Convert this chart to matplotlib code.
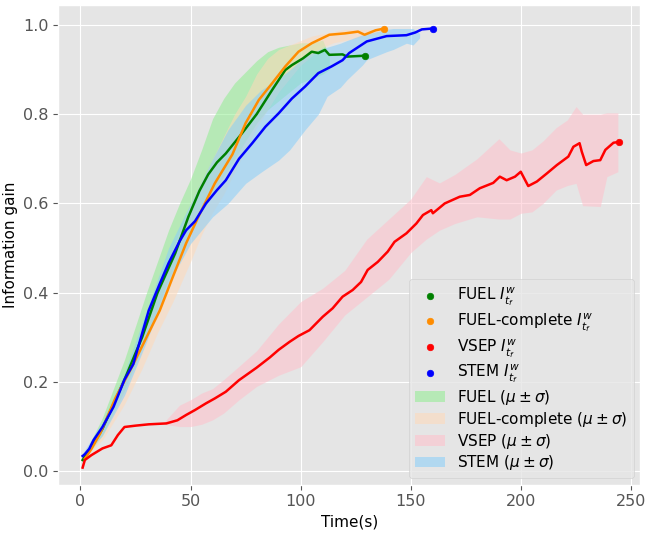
import matplotlib
matplotlib.use("Agg")
import matplotlib.pyplot as plt

plt.style.use("ggplot")

# FUEL
fuel_t = [1, 3, 6, 10, 15, 20, 28, 35, 43, 49, 54, 58, 62, 66, 73, 80, 87, 93, 96,
          101, 105, 108, 111, 113, 119, 121, 129]
fuel_y = [0.025, 0.04, 0.062, 0.095, 0.15, 0.205, 0.30, 0.40, 0.488, 0.57, 0.628,
          0.665, 0.692, 0.712, 0.755, 0.80, 0.854, 0.899, 0.91, 0.925, 0.94, 0.937,
          0.944, 0.933, 0.934, 0.929, 0.931]
fuel_band_t = [1, 10, 20, 30, 40, 45, 50, 55, 60, 65, 70, 75, 80, 85, 90, 95,
               100, 105, 110, 113]
fuel_band_lo = [0.02, 0.08, 0.18, 0.30, 0.43, 0.48, 0.53, 0.58, 0.62, 0.66, 0.70,
                0.74, 0.78, 0.81, 0.83, 0.85, 0.87, 0.88, 0.89, 0.90]
fuel_band_hi = [0.03, 0.12, 0.25, 0.40, 0.54, 0.60, 0.655, 0.72, 0.79, 0.835,
                0.87, 0.895, 0.92, 0.94, 0.95, 0.955, 0.96, 0.96, 0.966, 0.93]

# FUEL-complete
fc_t = [2, 5, 9, 16, 23, 30, 36, 42, 48, 54, 61, 69, 75, 81, 87, 93, 99, 105,
        113, 120, 126, 129, 134, 138]
fc_y = [0.028, 0.05, 0.085, 0.165, 0.23, 0.30, 0.36, 0.436, 0.511, 0.575, 0.645,
        0.71, 0.78, 0.832, 0.869, 0.907, 0.94, 0.959, 0.978, 0.981, 0.985, 0.978,
        0.988, 0.992]
fc_band_t = [1, 10, 20, 28, 35, 42, 50, 55, 60, 65, 70, 75, 80, 85, 90, 95, 100,
             105, 110, 115, 120, 125, 130, 135, 138]
fc_band_lo = [0.025, 0.07, 0.15, 0.23, 0.31, 0.38, 0.47, 0.53, 0.58, 0.62, 0.67,
              0.72, 0.77, 0.81, 0.85, 0.88, 0.91, 0.93, 0.95, 0.96, 0.965, 0.97,
              0.975, 0.98, 0.99]
fc_band_hi = [0.03, 0.10, 0.21, 0.30, 0.40, 0.50, 0.60, 0.65, 0.70, 0.75, 0.80,
              0.84, 0.89, 0.925, 0.945, 0.955, 0.965, 0.975, 0.98, 0.985, 0.99,
              0.99, 0.99, 0.99, 0.992]

# VSEP
vsep_t = [1, 2, 5, 10, 14, 17, 20, 25, 31, 39, 44, 48, 52, 57, 61, 66, 72, 80, 86,
          90, 95, 99, 104, 110, 114.5, 119, 123.6, 127.4, 130.4, 135, 139.5,
          142.6, 148, 152.5, 155.5, 159.3, 160, 165.4, 172.2, 176.8, 181.3,
          187.4, 190.4, 193.5, 197.3, 199.9, 203.3, 207.2, 211.7, 216.3, 221.5,
          223.8, 226.6, 227.6, 229.6, 232.9, 236, 238.3, 242, 244.6]
vsep_y = [0.008, 0.025, 0.036, 0.051, 0.058, 0.081, 0.099, 0.102, 0.105, 0.107,
          0.114, 0.126, 0.137, 0.152, 0.163, 0.178, 0.204, 0.232, 0.255, 0.272,
          0.29, 0.303, 0.316, 0.346, 0.365, 0.391, 0.406, 0.424, 0.451, 0.469,
          0.492, 0.514, 0.533, 0.555, 0.574, 0.585, 0.578, 0.600, 0.615, 0.619,
          0.634, 0.646, 0.660, 0.652, 0.660, 0.671, 0.639, 0.649, 0.667, 0.686,
          0.705, 0.727, 0.735, 0.716, 0.686, 0.695, 0.697, 0.720, 0.736, 0.738]
vsep_band_t = [38, 45, 50, 55, 60, 65, 72, 80, 90, 100, 110, 120, 130, 140, 150,
               157, 163, 170, 180, 190, 195, 200, 205, 210, 216, 221, 225, 228,
               236, 239, 244]
vsep_band_lo = [0.105, 0.10, 0.10, 0.105, 0.115, 0.13, 0.16, 0.19, 0.215, 0.234,
                0.29, 0.35, 0.39, 0.43, 0.49, 0.52, 0.54, 0.555, 0.57, 0.565,
                0.565, 0.578, 0.581, 0.60, 0.63, 0.64, 0.645, 0.595, 0.593, 0.66,
                0.671]
vsep_band_hi = [0.11, 0.148, 0.16, 0.175, 0.185, 0.205, 0.235, 0.27, 0.33, 0.38,
                0.41, 0.45, 0.52, 0.565, 0.61, 0.66, 0.646, 0.665, 0.70, 0.745,
                0.72, 0.713, 0.72, 0.74, 0.77, 0.787, 0.817, 0.80, 0.80, 0.803,
                0.803]

# STEM
stem_t = [1, 2, 4, 6, 10, 15, 20, 24, 31, 36, 40, 45, 48, 52, 57, 62, 66, 72, 78,
          84, 90, 96, 102, 108, 114, 119, 122, 130, 139, 148, 152, 155, 160]
stem_y = [0.034, 0.038, 0.05, 0.07, 0.099, 0.144, 0.205, 0.24, 0.36, 0.42, 0.466,
          0.515, 0.54, 0.56, 0.60, 0.63, 0.652, 0.70, 0.735, 0.772, 0.802, 0.835,
          0.862, 0.892, 0.907, 0.921, 0.937, 0.963, 0.975, 0.977, 0.983, 0.99,
          0.992]
stem_band_t = [1, 10, 20, 30, 40, 50, 60, 67, 75, 82, 90, 95, 102, 108, 112, 118,
               121, 128, 130, 139, 142, 148, 151, 154]
stem_band_lo = [0.03, 0.08, 0.17, 0.29, 0.42, 0.51, 0.57, 0.60, 0.645, 0.67,
                0.697, 0.72, 0.765, 0.80, 0.84, 0.86, 0.877, 0.91, 0.922, 0.94,
                0.945, 0.959, 0.955, 0.971]
stem_band_hi = [0.04, 0.11, 0.22, 0.36, 0.50, 0.60, 0.70, 0.765, 0.82, 0.854,
                0.88, 0.899, 0.929, 0.944, 0.95, 0.959, 0.965, 0.978, 0.98,
                0.99, 0.992, 0.992, 0.992, 0.981]

fig, ax = plt.subplots(figsize=(6.49, 5.39), dpi=100)
fig.subplots_adjust(left=0.09, right=0.986, top=0.991, bottom=0.101)

lines = [
    ("FUEL", fuel_t, fuel_y, "green"),
    ("FUEL-complete", fc_t, fc_y, "darkorange"),
    ("VSEP", vsep_t, vsep_y, "red"),
    ("STEM", stem_t, stem_y, "blue"),
]
bands = [
    ("FUEL", fuel_band_t, fuel_band_lo, fuel_band_hi, "lightgreen"),
    ("FUEL-complete", fc_band_t, fc_band_lo, fc_band_hi, "peachpuff"),
    ("VSEP", vsep_band_t, vsep_band_lo, vsep_band_hi, "pink"),
    ("STEM", stem_band_t, stem_band_lo, stem_band_hi, "lightskyblue"),
]

for name, t, lo, hi, c in bands:
    ax.fill_between(t, lo, hi, color=c, alpha=0.55, linewidth=0,
                    label=name + r" ($\mu \pm \sigma$)")

for name, t, y, c in lines:
    ax.plot(t, y, color=c, linewidth=1.8)
    ax.scatter([t[-1]], [y[-1]], color=c, s=22, zorder=5,
               label=name + r" $I^{w}_{t_f}$")

h, l = ax.get_legend_handles_labels()
order = [4, 5, 6, 7, 0, 1, 2, 3]
ax.legend([h[i] for i in order], [l[i] for i in order], loc="lower right",
          fontsize=11, facecolor="#e5e5e5", framealpha=0.8, labelspacing=0.18,
          borderaxespad=0.4)

ax.set_xlim(-10, 254)
ax.set_ylim(-0.03, 1.045)
ax.set_xlabel("Time(s)", fontsize=11, color="black")
ax.set_ylabel("Information gain", fontsize=11, color="black")
ax.tick_params(labelsize=11.5)

fig.savefig("out.png")
